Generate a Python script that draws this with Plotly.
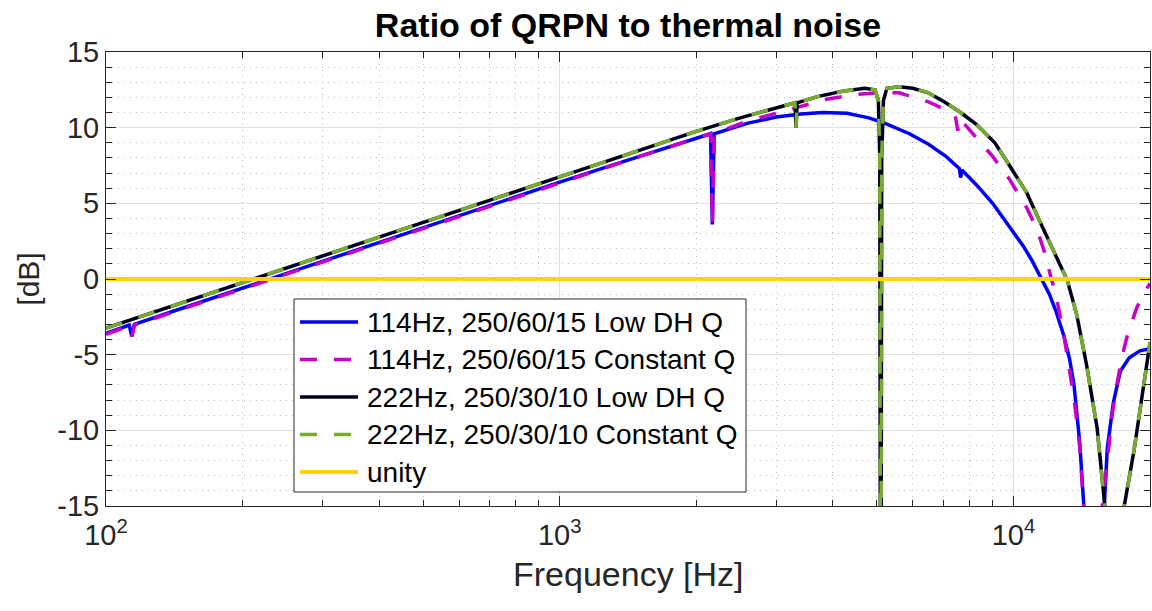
import plotly.graph_objects as go

# ---- data: frequency [Hz] and QRPN / thermal noise ratio [dB] ----
f_114_low = [100, 112.5, 114, 115.5, 150, 200, 300, 500, 700, 1000, 1500, 2150, 2170, 2190,
             2600, 3000, 3400, 3800, 4300, 4800, 5200, 5900, 6500, 7100, 7600, 7650, 7700,
             8300, 9000, 9800, 10500, 11000, 11500, 12000, 12400, 12900, 13300, 13600, 14000,
             14400, 14800, 15200, 15500, 15800, 16100, 16600, 17200, 18000, 19000, 20000]
db_114_low = [-3.6, -3.05, -3.8, -3.0, -1.85, -0.6, 1.2, 3.4, 4.85, 6.4, 8.1, 9.6, 3.6, 9.6,
              10.3, 10.7, 10.9, 11.0, 10.95, 10.65, 10.3, 9.6, 8.9, 8.1, 7.3, 6.7, 7.2,
              6.2, 5.0, 3.5, 2.2, 1.2, 0.1, -1.0, -2.1, -3.7, -5.3, -7.0, -10.8,
              -15.5, -22, -30, -28, -16, -11.2, -8.2, -6.1, -5.2, -4.75, -4.6]

f_114_const = [100, 112.5, 114, 115.5, 150, 200, 300, 500, 700, 1000, 1500, 2150, 2170, 2190,
               2600, 3000, 3400, 3900, 4500, 5000, 5600, 6500, 7000, 7450, 7540, 7620,
               8300, 9000, 9800, 10700, 11300, 11700, 12100, 12400, 12900, 13600, 14000,
               14400, 14800, 15200, 15500, 15700, 16100, 16500, 16900, 17300, 17800, 18700,
               19400, 20000]
db_114_const = [-3.65, -3.1, -3.8, -3.05, -1.9, -0.65, 1.15, 3.35, 4.8, 6.35, 8.1, 9.6, 3.6, 9.6,
                10.45, 10.95, 11.4, 11.9, 12.2, 12.3, 12.3, 11.7, 11.25, 10.75, 9.8, 10.6,
                9.3, 8.1, 6.6, 4.7, 3.2, 1.8, 0.1, -1.0, -3.6, -7.9, -11.1,
                -15.5, -22, -30, -22, -15, -12.1, -9.0, -7.0, -5.3, -3.8, -1.9,
                -0.9, -0.3]

f_222_low = [100, 150, 200, 300, 500, 700, 1000, 1500, 2000, 2500, 3000, 3300, 3318, 3336,
             3700, 4200, 4700, 4950, 5040, 5075, 5095, 5105, 5125, 5170, 5260, 5600, 6000,
             6500, 7050, 7650, 8300, 9100, 9850, 10700, 11600, 12700, 13150, 13800, 14500,
             15300, 15900, 16300, 16800, 17200, 17550, 18450, 19400, 20000]
db_222_low = [-3.25, -1.5, -0.25, 1.5, 3.75, 5.2, 6.75, 8.5, 9.75, 10.65, 11.3, 11.65, 10.0, 11.65,
              12.05, 12.4, 12.6, 12.5, 11.8, 8.0, -30, -30, 8.0, 11.8, 12.6, 12.7, 12.6,
              12.3, 11.7, 11.0, 10.2, 9.0, 7.4, 5.7, 3.4, 0.8, -0.1, -2.4, -5.7,
              -9.9, -15, -22, -30, -22, -15, -11.3, -6.9, -4.2]

f_222_const = [100, 150, 200, 300, 500, 700, 1000, 1500, 2000, 2500, 3000, 3300, 3318, 3336,
               3700, 4200, 4700, 4950, 5040, 5075, 5095, 5105, 5125, 5170, 5260, 5600, 6000,
               6500, 7050, 7650, 8300, 9100, 9850, 10700, 11600, 12700, 13150, 13800, 14500,
               15300, 15900, 16300, 16800, 17200, 17550, 18450, 19400, 20000]
db_222_const = [-3.25, -1.5, -0.25, 1.5, 3.75, 5.2, 6.75, 8.5, 9.75, 10.65, 11.3, 11.65, 10.0, 11.65,
                12.05, 12.4, 12.6, 12.5, 11.8, 8.0, -30, -30, 8.0, 11.8, 12.6, 12.7, 12.6,
                12.3, 11.7, 11.0, 10.2, 9.0, 7.4, 5.7, 3.4, 0.8, -0.1, -2.4, -5.7,
                -9.9, -15, -22, -30, -22, -15, -11.3, -6.9, -4.2]

f_unity = [100, 20000]
db_unity = [0, 0]

series_names = ["114Hz, 250/60/15 Low DH Q", "114Hz, 250/60/15 Constant Q",
                "222Hz, 250/30/10 Low DH Q", "222Hz, 250/30/10 Constant Q", "unity"]
x_tick_vals = [100, 1000, 10000]
x_tick_text = ["10<sup>2</sup>", "10<sup>3</sup>", "10<sup>4</sup>"]
x_minor_vals = [200, 300, 400, 500, 600, 700, 800, 900,
                2000, 3000, 4000, 5000, 6000, 7000, 8000, 9000, 20000]
y_tick_vals = [-15, -10, -5, 0, 5, 10, 15]
y_tick_text = ["-15", "-10", "-5", "0", "5", "10", "15"]

# ---- styling ----
FONT = "Liberation Sans, Arial, Helvetica, sans-serif"
AX = "#262626"
styles = [
    dict(color="#0000FF", width=3.5, dash="solid"),
    dict(color="#C800C8", width=3.5, dash="17px,17px"),
    dict(color="#00001E", width=3.5, dash="solid"),
    dict(color="#77AC30", width=3.5, dash="17px,17px"),
    dict(color="#FFD400", width=4, dash="solid"),
]
xs = [f_114_low, f_114_const, f_222_low, f_222_const, f_unity]
ys = [db_114_low, db_114_const, db_222_low, db_222_const, db_unity]

fig = go.Figure()
for name, x, y, st in zip(series_names, xs, ys, styles):
    fig.add_trace(go.Scatter(x=x, y=y, mode="lines", name=name, line=st,
                             showlegend=False, hoverinfo="x+y+name"))

# plot-area geometry in pixels (used for the legend box and x label)
W, H = 1152, 611
L, R, T, B = 106, 2, 52, 105
PW, PH = W - L - R, H - T - B


def px(xp):
    return (xp - L) / PW


def py(yp):
    return (H - B - yp) / PH


shapes = [dict(type="rect", xref="paper", yref="paper",
               x0=px(294), x1=px(746), y0=py(492), y1=py(299),
               fillcolor="white", line=dict(color=AX, width=1), layer="above")]
annotations = []
row_y = [322, 359.5, 397, 434.5, 472]
for name, st, ry in zip(series_names, styles, row_y):
    shapes.append(dict(type="line", xref="paper", yref="paper",
                       x0=px(300), x1=px(358), y0=py(ry), y1=py(ry),
                       line=dict(color=st["color"], width=st["width"], dash=st["dash"]),
                       layer="above"))
    annotations.append(dict(xref="paper", yref="paper", x=px(365), y=py(ry),
                            xanchor="left", yanchor="middle", text=name, showarrow=False,
                            font=dict(family=FONT, size=28, color="black")))

# x-axis label
annotations.append(dict(xref="paper", yref="paper", x=0.5, y=py(574),
                        xanchor="center", yanchor="middle", text="Frequency [Hz]",
                        showarrow=False, font=dict(family=FONT, size=34, color=AX)))

fig.update_layout(
    width=W, height=H,
    margin=dict(l=L, r=R, t=T, b=B),
    paper_bgcolor="white", plot_bgcolor="white",
    font=dict(family=FONT, color=AX),
    title=dict(text="<b>Ratio of QRPN to thermal noise</b>", x=0.5, xref="paper",
               xanchor="center", y=1 - 25 / H, yref="container", yanchor="middle",
               font=dict(family=FONT, size=34, color="black")),
    shapes=shapes, annotations=annotations, showlegend=False,
)

fig.update_xaxes(
    type="log", range=[2, 4.30103],
    tickvals=x_tick_vals, ticktext=x_tick_text,
    tickfont=dict(family=FONT, size=29, color=AX), ticklabelstandoff=3,
    ticks="inside", ticklen=10, tickwidth=1, tickcolor=AX,
    showline=True, linecolor=AX, linewidth=1, mirror="allticks",
    showgrid=True, gridcolor="#E0E0E0", gridwidth=1, zeroline=False,
    minor=dict(tickvals=x_minor_vals, ticks="inside", ticklen=6, tickcolor=AX,
               showgrid=True, gridcolor="#BDBDBD", griddash="1px,5px", gridwidth=1),
)
fig.update_yaxes(
    range=[-15, 15], tickvals=y_tick_vals, ticktext=y_tick_text,
    tickfont=dict(family=FONT, size=29, color=AX),
    ticks="inside", ticklen=10, tickwidth=1, tickcolor=AX,
    showline=True, linecolor=AX, linewidth=1, mirror="allticks",
    showgrid=True, gridcolor="#E0E0E0", gridwidth=1, zeroline=False,
    minor=dict(dtick=1, tick0=0, ticks="inside", ticklen=6, tickcolor=AX,
               showgrid=True, gridcolor="#BDBDBD", griddash="1px,5px", gridwidth=1),
    title=dict(text="[dB]", font=dict(family=FONT, size=30, color=AX), standoff=8),
)

fig.write_html("out.html")
